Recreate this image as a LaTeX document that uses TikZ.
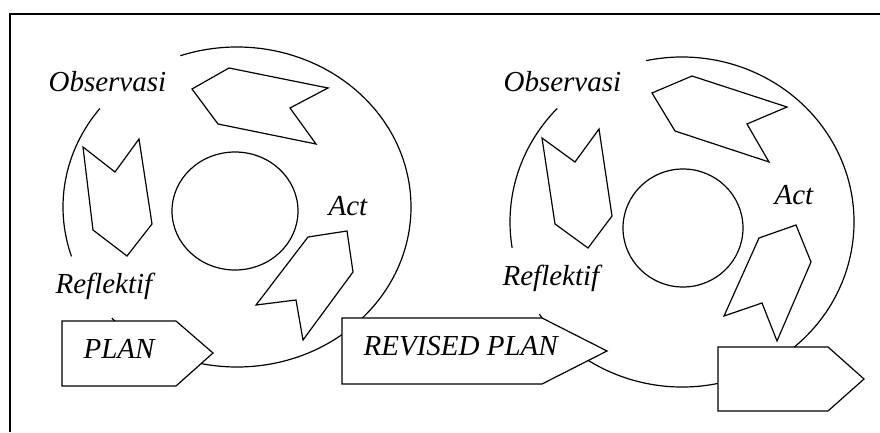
\documentclass[tikz,border=0pt]{standalone}
\usepackage{fontspec}
\setmainfont{Liberation Serif}
\begin{document}
\begin{tikzpicture}[x=1pt, y=1pt, line width=1.2pt, line join=miter,
  lbl/.style={font=\fontsize{29}{32}\selectfont\itshape, anchor=base west, inner sep=0pt},
  arrowbox/.style={draw, fill=white}]
\useasboundingbox (0,0) rectangle (880,432);
\draw[line width=2pt] (10,0) -- (10,418) -- (880,418);
\draw (237,225) ++(224:174pt and 160pt) arc[start angle=224, end angle=469, x radius=174pt, y radius=160pt];
\draw (237,225) ++(142:174pt and 160pt) arc[start angle=142, end angle=198, x radius=174pt, y radius=160pt];
\draw (235,221) ellipse[x radius=63pt, y radius=59pt];
\draw (192,343) -- (229,364) -- (328,344) -- (290,324) -- (316,288) -- (218,308) -- cycle;
\draw (83,285) -- (115,260) -- (139,293) -- (152,208) -- (127,176) -- (93,202) -- cycle;
\draw (308,195) -- (347,201) -- (353,160) -- (303,92) -- (296,132) -- (256,127) -- cycle;
\draw (682,210) ++(214:172pt and 165pt) arc[start angle=214, end angle=462, x radius=172pt, y radius=165pt];
\draw (682,210) ++(136.5:172pt and 165pt) arc[start angle=136.5, end angle=189, x radius=172pt, y radius=165pt];
\draw (683,204) ellipse[x radius=60pt, y radius=59pt];
\draw (652,339) -- (692,356) -- (787,325) -- (747,308) -- (769,270) -- (675,301) -- cycle;
\draw (542,294) -- (575,270) -- (599,303) -- (612,216) -- (588,184) -- (555,208) -- cycle;
\draw (759,194) -- (796,207) -- (811,170) -- (777,91) -- (762,129) -- (724,116) -- cycle;
\draw[arrowbox] (62,111) -- (176,111) -- (213,79) -- (176,46) -- (62,46) -- cycle;
\draw[arrowbox] (342,114) -- (542,114) -- (607,81) -- (542,48) -- (342,48) -- cycle;
\draw[arrowbox] (718,85) -- (828,85) -- (864,53) -- (828,21) -- (718,21) -- cycle;
\node[lbl] (obs1) at (48,340) {Observasi};
\node[lbl] (refl1) at (55,139) {Reflektif};
\node[lbl] (act1) at (328,217) {Act};
\node[lbl] (plan) at (83,74) {PLAN};
\node[lbl] (revplan) at (363,77) {REVISED PLAN};
\node[lbl] (obs2) at (503,340) {Observasi};
\node[lbl] (refl2) at (502,147) {Reflektif};
\node[lbl] (act2) at (774,228) {Act};
\end{tikzpicture}
\end{document}
